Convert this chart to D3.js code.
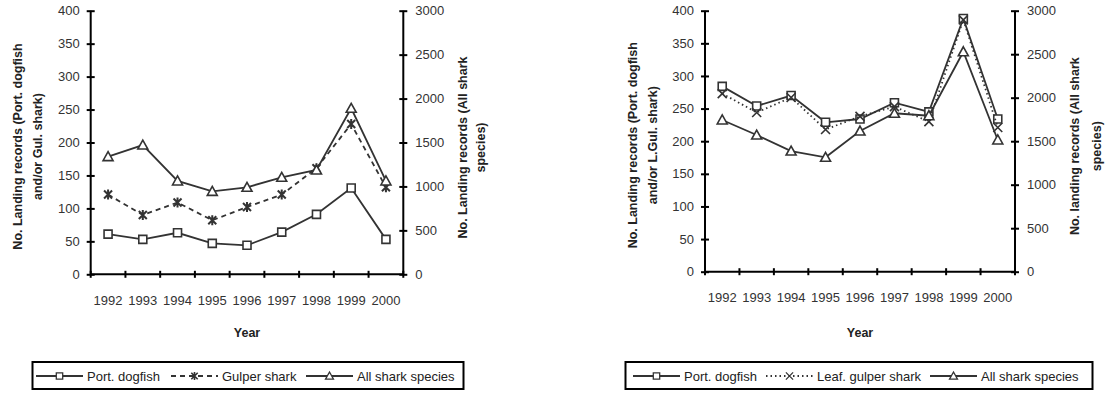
<!DOCTYPE html>
<html>
<head>
<meta charset="utf-8">
<script src="https://cdn.jsdelivr.net/npm/d3@7"></script>
<style>
  body { margin: 0; background: #fff; }
  svg { display: block; font-family: "Liberation Sans", Arial, sans-serif; }
  .tick text { fill: #333; font-size: 13px; }
  .axis path { display: none; }
  .axis line { stroke: #000; stroke-width: 2; }
  .axisline { stroke: #000; stroke-width: 2; }
  .series { fill: none; stroke: #333; stroke-width: 1.8; }
  .label { font-size: 12.5px; font-weight: bold; fill: #222; }
  .legendText { font-size: 13px; fill: #222; }
</style>
</head>
<body>
<script>
const W = 1105, H = 393

// Data
const years = ['1992', '1993', '1994', '1995', '1996', '1997', '1998', '1999', '2000']
const leftTicks = [0, 50, 100, 150, 200, 250, 300, 350, 400]
const rightTicks = [0, 500, 1000, 1500, 2000, 2500, 3000]

// chart A: Portuguese dogfish / gulper shark
const dogfishA = [61, 53, 63, 47, 44, 64, 91, 131, 53]
const gulperA = [121, 90, 109, 82, 102, 121, 161, 228, 132]
const allSharkA = [1339, 1471, 1062, 944, 990, 1104, 1187, 1889, 1062]

// chart B: Portuguese dogfish / leafscale gulper shark
const dogfishB = [284, 254, 270, 229, 234, 259, 245, 388, 234]
const leafGulperB = [273, 244, 267, 218, 238, 253, 230, 386, 221]
const allSharkB = [1744, 1571, 1387, 1315, 1617, 1821, 1793, 2528, 1514]

const svg = d3.select('body').append('svg')
  .attr('width', W)
  .attr('height', H)

function markerPath(type) {
  if (type === 'square') return 'M-4,-4H4V4H-4Z'
  if (type === 'triangle') return 'M0,-5L5,4H-5Z'
  if (type === 'star') return 'M-4,-4L4,4M-4,4L4,-4M0,-5V5'
  if (type === 'cross') return 'M-4.5,-4.5L4.5,4.5M-4.5,4.5L4.5,-4.5'
}

function drawMarker(sel, type) {
  sel.append('path')
    .attr('d', markerPath(type))
    .attr('fill', type === 'square' || type === 'triangle' ? '#fff' : 'none')
    .attr('stroke', '#333')
    .attr('stroke-width', type === 'star' ? 2 : 1.6)
}

function drawChart(cfg) {
  const g = svg.append('g')
  const x = d3.scaleBand().domain(years).range([cfg.x0, cfg.x1])
  const y = d3.scaleLinear().domain([0, 400]).range([cfg.y1, cfg.y0])
  const y2 = d3.scaleLinear().domain([0, 3000]).range([cfg.y1, cfg.y0])

  // axis lines
  g.append('line').classed('axisline', true)
    .attr('x1', cfg.x0).attr('x2', cfg.x0).attr('y1', cfg.y0).attr('y2', cfg.y1)
  g.append('line').classed('axisline', true)
    .attr('x1', cfg.x1).attr('x2', cfg.x1).attr('y1', cfg.y0).attr('y2', cfg.y1)
  g.append('line').classed('axisline', true)
    .attr('x1', cfg.x0).attr('x2', cfg.x1).attr('y1', cfg.y1).attr('y2', cfg.y1)

  // left axis, ticks cross the line
  const ax = g.append('g').classed('axis', true)
    .attr('transform', `translate(${cfg.x0},0)`)
    .call(d3.axisLeft(y).tickValues(leftTicks).tickSize(4).tickPadding(7))
  ax.selectAll('.tick line').attr('x2', 4).attr('x1', -4)

  const ax2 = g.append('g').classed('axis', true)
    .attr('transform', `translate(${cfg.x1},0)`)
    .call(d3.axisRight(y2).tickValues(rightTicks).tickFormat(d3.format('d'))
      .tickSize(4).tickPadding(8))
  ax2.selectAll('.tick line').attr('x1', -4).attr('x2', 4)

  // x axis: labels at band centres, ticks at band edges
  g.append('g').classed('axis', true)
    .attr('transform', `translate(0,${cfg.y1})`)
    .call(d3.axisBottom(x).tickSize(0).tickPadding(21))
  const edges = years.map(d => x(d)).concat([cfg.x1])
  g.selectAll('line.xtick').data(edges).enter().append('line')
    .classed('axisline', true)
    .attr('x1', d => d).attr('x2', d => d)
    .attr('y1', cfg.y1 - 3.5).attr('y2', cfg.y1 + 3.5)

  // series
  const cx = (d, i) => x(years[i]) + x.bandwidth() / 2
  cfg.series.forEach(s => {
    const sc = s.axis === 'right' ? y2 : y
    const line = d3.line().x(cx).y(d => sc(d))
    g.append('path').classed('series', true)
      .attr('d', line(s.values))
      .attr('stroke-dasharray', s.dash || null)
    g.selectAll(null).data(s.values).enter().append('g')
      .attr('transform', (d, i) => `translate(${cx(d, i)},${sc(d)})`)
      .each(function () { drawMarker(d3.select(this), s.marker) })
  })

  // axis titles
  const midY = (cfg.y0 + cfg.y1) / 2
  cfg.leftLabel.forEach((t, i) => {
    g.append('text').classed('label', true)
      .attr('transform', `translate(${cfg.leftLabelX + i * 20},${midY + 4}) rotate(-90)`)
      .attr('text-anchor', 'middle').attr('dy', '0.35em').text(t)
  })
  cfg.rightLabel.forEach((t, i) => {
    g.append('text').classed('label', true)
      .attr('transform', `translate(${cfg.rightLabelX + i * cfg.rightGap},${midY + 5}) rotate(-90)`)
      .attr('text-anchor', 'middle').attr('dy', '0.35em').text(t)
  })
  g.append('text').classed('label', true)
    .attr('x', (cfg.x0 + cfg.x1) / 2).attr('y', 337)
    .attr('text-anchor', 'middle').text('Year')

  // legend
  const lg = g.append('g')
  lg.append('rect')
    .attr('x', cfg.legend.x).attr('y', 362)
    .attr('width', cfg.legend.w).attr('height', 27)
    .attr('fill', '#fff').attr('stroke', '#000').attr('stroke-width', 2)
  cfg.series.forEach((s, i) => {
    const lx = cfg.legend.items[i]
    const item = lg.append('g').attr('transform', `translate(${lx},376)`)
    item.append('line').classed('series', true)
      .attr('x1', 0).attr('x2', 47).attr('y1', 0).attr('y2', 0)
      .attr('stroke-dasharray', s.dash || null)
    const m = item.append('g').attr('transform', 'translate(23.5,0) scale(0.8)')
    drawMarker(m, s.marker)
    item.append('text').classed('legendText', true)
      .attr('x', 51).attr('dy', '0.35em').text(s.name)
  })
}

drawChart({
  x0: 90.7, x1: 403.3, y0: 10.7, y1: 274.3,
  leftLabel: ['No. Landing records (Port. dogfish', 'and/or Gul. shark)'],
  leftLabelX: 18,
  rightLabel: ['No. Landing records (All shark', 'species)'],
  rightLabelX: 463, rightGap: 18,
  legend: { x: 32.5, w: 431, items: [36, 171, 306] },
  series: [
    { name: 'Port. dogfish', values: dogfishA, marker: 'square' },
    { name: 'Gulper shark', values: gulperA, marker: 'star', dash: '5,4' },
    { name: 'All shark species', values: allSharkA, marker: 'triangle', axis: 'right' }
  ]
})

drawChart({
  x0: 705, x1: 1015, y0: 10.7, y1: 271.7,
  leftLabel: ['No. Landing records (Port. dogfish', 'and/or L.Gul. shark)'],
  leftLabelX: 633,
  rightLabel: ['No. landing records (All shark', 'species)'],
  rightLabelX: 1075, rightGap: 22,
  legend: { x: 625.5, w: 467, items: [633, 766, 930] },
  series: [
    { name: 'Port. dogfish', values: dogfishB, marker: 'square' },
    { name: 'Leaf. gulper shark', values: leafGulperB, marker: 'cross', dash: '1.5,3' },
    { name: 'All shark species', values: allSharkB, marker: 'triangle', axis: 'right' }
  ]
})
</script>
</body>
</html>
